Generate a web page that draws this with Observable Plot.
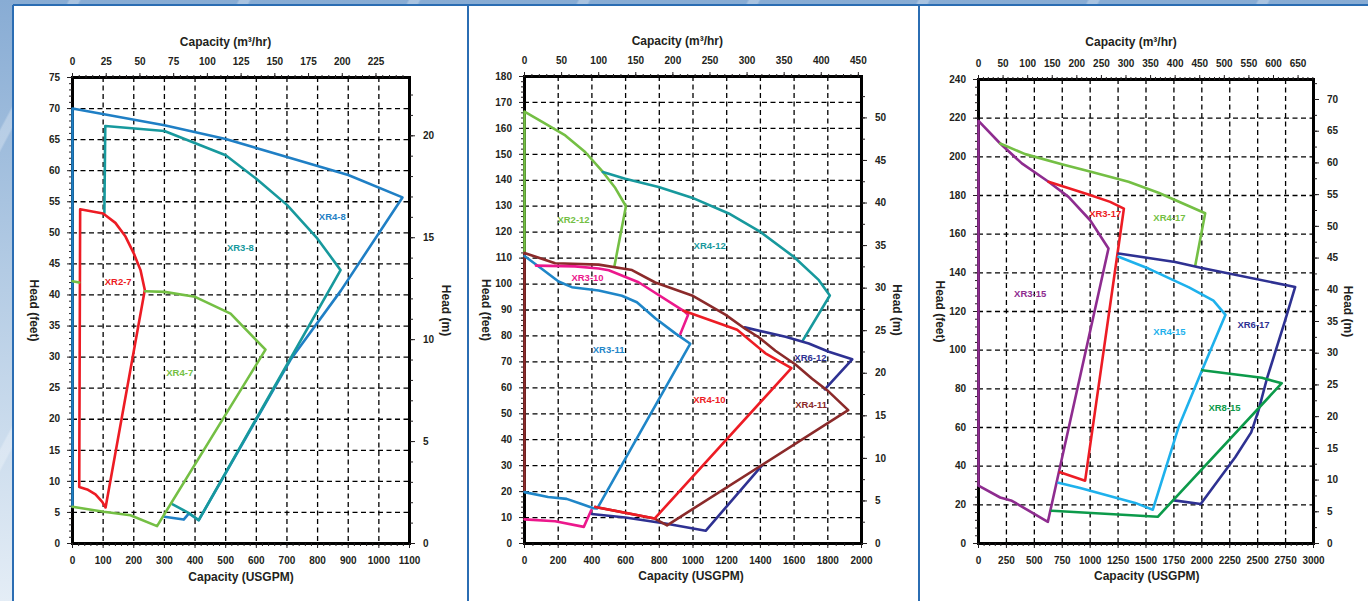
<!DOCTYPE html>
<html><head><meta charset="utf-8">
<script src="https://cdn.jsdelivr.net/npm/d3@7"></script>
<script src="https://cdn.jsdelivr.net/npm/@observablehq/plot@0.6"></script>
<style>
html,body{margin:0;padding:0;width:1368px;height:601px;overflow:hidden;}
body{position:relative;font-family:"Liberation Sans",Arial,sans-serif;
 background:
  repeating-linear-gradient(118deg, rgba(255,255,255,0) 0px, rgba(255,255,255,0) 60px, rgba(255,255,255,0.28) 62px, rgba(255,255,255,0.28) 70px, rgba(255,255,255,0) 72px, rgba(255,255,255,0) 150px),
  linear-gradient(180deg,#88acd4 0%,#b3cbe4 45%,#e4edf6 100%);}
#sheet{position:absolute;left:13px;top:5px;width:1355px;height:596px;background:#fff;}
.vline{position:absolute;top:5px;height:596px;width:2px;background:#2b6db3;}
.hline{position:absolute;left:13px;top:4px;height:2px;width:1355px;background:#2b6db3;}
.panel{position:absolute;top:5px;}
.panel svg{display:block;}
</style></head><body>
<div id="sheet"></div>
<div class="hline"></div>
<div class="vline" style="left:12px"></div>
<div class="vline" style="left:467px"></div>
<div class="vline" style="left:918px"></div>
<div class="panel" id="p1" style="left:13px"></div>
<div class="panel" id="p2" style="left:468px"></div>
<div class="panel" id="p3" style="left:919px"></div>
<script>
// ---------- DATA (x = capacity USGPM, y = head feet) ----------
// Panel 1
const xr4_8 = [[[0,5.9],[0,70],[300,67.3],[500,65.1],[700,62.2],[900,59.3],[1077,55.7],[876,40.7],[712,29.6],[412,3.75],[380,4.85],[363,3.85],[300,4.3]]];
const xr3_8 = [[[327,6.3],[380,4.9],[412,3.75],[875,44.0],[799,49.1],[700,54.5],[600,58.7],[500,62.5],[300,66.4],[107,67.2],[104,53.2]]];
const xr2_7 = [[[22,9.1],[25,53.8],[100,53.1],[140,51.6],[173,49.4],[200,46.7],[222,44.0],[236,40.8],[108,5.8],[97,6.7],[75,7.9],[48,8.7],[22,9.1]]];
const xr4_7 = [[[0,42.2],[22,42.0]],
               [[237,40.6],[300,40.5],[400,39.7],[516,37.0],[630,31.2],[276,2.8],[189,4.55],[102,5.1],[0,5.9]]];
// Panel 2
const xr2_12 = [[[533,106.7],[602,130],[539,137],[465,143.2],[360,150.9],[242,157.3],[123,161.8],[0,166.5],[0,112]]];
const xr4_12 = [[[465,143.2],[598,140.6],[796,137.4],[994,133.3],[1212,127.2],[1400,120.1],[1598,110.5],[1747,101.5],[1812,95.6],[1653,78.4]]];
const xr6_12 = [[[1307,83.3],[1549,79.7],[1687,77.1],[1806,73.9],[1945,71.0],[1782,59.4]],
                [[1410,30.1],[1075,4.9],[836,7.7],[599,10.0],[398,11.4]]];
const xr4_11 = [[[0,20],[0,112],[182,108],[440,107.5],[638,105.4],[776,100.6],[994,95.6],[1192,88.2],[1311,82.7],[1390,79.5],[1489,74.3],[1608,69],[1707,63.5],[1796,59.1],[1921,51.4],[846,7.0],[772,9.6],[420,14.1]]];
const xr3_11 = [[[0,110.8],[100,106],[202,101],[281,98.8],[440,97.5],[578,95.5],[667,93.0],[776,86.8],[895,81.0],[984,77.0],[432,13.5],[410,13.6],[330,15.4],[250,17.2],[140,17.9],[0,19.8]]];
const xr3_10 = [[[68,107.1],[300,106.8],[440,106.0],[500,105.3],[677,100.7],[944,89.7],[971,88.2],[925,80.8]],
                [[0,9.3],[182,8.6],[352,6.4],[396,12.8]]];
const xr4_10 = [[[944,89.7],[1262,82.4],[1430,73.3],[1584,67.6],[772,9.6],[420,14.1]]];
// Panel 3
const xr3_15 = [[[0,29.9],[0,218.6],[194,206.9],[388,196.6],[627,187.1],[806,179.3],[1000,167.2],[1164,152.6],[621,11.2],[403,18.6],[299,22.1],[194,23.8],[0,29.9]]];
const xr3_17 = [[[627,187.1],[985,180.5],[1179,176.7],[1302,173.2],[955,32.5],[730,36.8]]];
const xr4_17 = [[[194,206.9],[418,201.4],[746,196.2],[1015,192.2],[1343,187.1],[1612,181.4],[2030,170.8],[1941,143.8]]];
const xr6_17 = [[[1254,150],[1761,145.6],[2000,142.5],[2836,132.7],[2746,115.4],[2582,85.1],[2507,68.7],[2442,57.5],[2299,44.6],[1990,20.4],[1750,22.3]]];
const xr4_15 = [[[1254,148.3],[1522,142.2],[1885,132.5],[2104,125.6],[2212,118.3],[2000,89.4],[1791,60.1],[1561,17.5],[1403,21],[911,28.7],[716,31.4]]];
const xr8_15 = [[[2003,89.6],[2269,87.7],[2537,85.7],[2716,82.9],[1605,13.8],[657,16.9]]];

// Curve labels: name, capacity (USGPM), head (ft)
const labels1 = [["XR4-8",848,52.6],["XR3-8",548,47.5],["XR2-7",149,42.1],["XR4-7",350,27.4]];
const labels2 = [["XR2-12",291,124.9],["XR4-12",1099,114.5],["XR3-10",374,102.5],["XR3-11",499,74.7],["XR6-12",1697,71.6],["XR4-10",1097,55.5],["XR4-11",1701,53.3]];
const labels3 = [["XR3-17",1135,170.2],["XR4-17",1710,168.5],["XR3-15",463,129.1],["XR4-15",1710,109.6],["XR6-17",2463,113.3],["XR8-15",2203,69.9]];

// Axis ticks
const gpmTicks1 = d3.range(0, 1101, 100), ftTicks1 = d3.range(0, 76, 5), m3hTicks1 = d3.range(0, 226, 25), mTicks1 = d3.range(0, 21, 5);
const gpmTicks2 = d3.range(0, 2001, 200), ftTicks2 = d3.range(0, 181, 10), m3hTicks2 = d3.range(0, 451, 50), mTicks2 = d3.range(0, 51, 5);
const gpmTicks3 = d3.range(0, 3001, 250), ftTicks3 = d3.range(0, 241, 20), m3hTicks3 = d3.range(0, 651, 50), mTicks3 = d3.range(0, 71, 5);

// ---------- STYLE ----------
const COLORS = {
  "XR4-8":"#1f7fc5","XR3-8":"#17999d","XR2-7":"#ed1c24","XR4-7":"#74bf44",
  "XR2-12":"#74bf44","XR4-12":"#17999d","XR6-12":"#2e3192","XR4-11":"#8b2a2a","XR3-11":"#1f86c8","XR3-10":"#ec188c","XR4-10":"#ed1c24",
  "XR3-15":"#8e2c8f","XR3-17":"#ed1c24","XR4-17":"#74bf44","XR6-17":"#2e3192","XR4-15":"#1eb1ec","XR8-15":"#0c9a4a"
};
const GPM_PER_M3H = 4.402868, FT_PER_M = 3.28084;
const TXT = "#231f20";

function rows(segs, key){ return segs.flatMap((s,i)=>s.map(([x,y])=>({x,y,seg:key+"-"+i}))); }

function panel(cfg){
  const grid = {stroke:"#000", strokeOpacity:1, strokeWidth:1.3, strokeDasharray:"5,3.5"};
  const blank = () => "";
  const marks = [
    Plot.gridX(cfg.xT, grid),
    Plot.gridY(cfg.yT, grid),
    Plot.frame({stroke:"#000", strokeWidth:3}),
    Plot.axisX(cfg.xMinor, {anchor:"bottom", tickSize:3, tickFormat:blank, label:null}),
    Plot.axisX(cfg.topMinor.map(v=>v*GPM_PER_M3H), {anchor:"top", tickSize:3, tickFormat:blank, label:null}),
    Plot.axisY(cfg.yMinor, {anchor:"left", tickSize:3, tickFormat:blank, label:null}),
    Plot.axisY(cfg.rightMinor.map(v=>v*FT_PER_M), {anchor:"right", tickSize:3, tickFormat:blank, label:null}),
    Plot.axisX(cfg.xT, {anchor:"bottom", tickSize:5, tickPadding:8, tickFormat:d=>String(d), label:null}),
    Plot.axisX(cfg.topT.map(v=>v*GPM_PER_M3H), {anchor:"top", tickSize:5, tickPadding:7.5, tickFormat:d=>String(Math.round(d/GPM_PER_M3H)), label:null}),
    Plot.axisY(cfg.yT, {anchor:"left", tickSize:5, tickPadding:7.5, tickFormat:d=>String(d), label:null}),
    Plot.axisY(cfg.rightT.map(v=>v*FT_PER_M), {anchor:"right", tickSize:5, tickPadding:8.5, tickFormat:d=>String(Math.round(d/FT_PER_M)), label:null})
  ];
  for (const [name, segs] of cfg.series) {
    marks.push(Plot.line(rows(segs, name), {x:"x", y:"y", z:"seg", stroke:COLORS[name], strokeWidth:2.6, strokeLinejoin:"round", strokeLinecap:"round"}));
  }
  marks.push(Plot.text(cfg.labels, {x:d=>d[1], y:d=>d[2], text:d=>d[0], fill:d=>COLORS[d[0]], fontSize:9.5, fontWeight:"bold"}));
  const L = cfg.lab;
  const lt = {text:d=>d, fontSize:12, fontWeight:"bold", fill:TXT, textAnchor:"middle", lineAnchor:"middle"};
  marks.push(Plot.text(["Capacity (m³/hr)"], {...lt, frameAnchor:"top", dx:L.tdx, dy:L.tdy}));
  marks.push(Plot.text(["Capacity (USGPM)"], {...lt, frameAnchor:"bottom", dx:L.bdx, dy:L.bdy}));
  marks.push(Plot.text(["Head (feet)"], {...lt, frameAnchor:"left", dx:L.ldx, rotate:90}));
  marks.push(Plot.text(["Head (m)"], {...lt, frameAnchor:"right", dx:L.rdx, rotate:90}));
  return Plot.plot({
    width:cfg.w, height:596, marginLeft:cfg.ml, marginRight:cfg.mr, marginTop:cfg.mt, marginBottom:cfg.mb,
    x:{domain:[0,cfg.xmax]}, y:{domain:[0,cfg.ymax]},
    style:{fontFamily:'"Liberation Sans",Arial,sans-serif', fontSize:"10px", fontWeight:"bold", color:TXT, background:"transparent", overflow:"visible"},
    marks
  });
}

document.getElementById("p1").append(panel({
  w:455, ml:59, mr:59, mt:72, mb:58, xmax:1100, ymax:75,
  xT:gpmTicks1, yT:ftTicks1, topT:m3hTicks1, rightT:mTicks1,
  xMinor:d3.range(0,1101,20), yMinor:d3.range(0,76,1), topMinor:d3.range(0,246,5), rightMinor:d3.range(0,23,1),
  series:[["XR4-8",xr4_8],["XR3-8",xr3_8],["XR2-7",xr2_7],["XR4-7",xr4_7]],
  labels:labels1,
  lab:{tdx:-15.5, tdy:-35, bdx:0, bdy:33.5, ldx:-39, rdx:36}
}));
document.getElementById("p2").append(panel({
  w:451, ml:56, mr:58, mt:71, mb:58, xmax:2000, ymax:180,
  xT:gpmTicks2, yT:ftTicks2, topT:m3hTicks2, rightT:mTicks2,
  xMinor:d3.range(0,2001,50), yMinor:d3.range(0,181,2), topMinor:d3.range(0,451,10), rightMinor:d3.range(0,55,2.5),
  series:[["XR2-12",xr2_12],["XR4-12",xr4_12],["XR6-12",xr6_12],["XR4-11",xr4_11],["XR3-11",xr3_11],["XR3-10",xr3_10],["XR4-10",xr4_10]],
  labels:labels2,
  lab:{tdx:-15.7, tdy:-35.3, bdx:-2, bdy:32.7, ldx:-38.3, rdx:35.7}
}));
document.getElementById("p3").append(panel({
  w:449, ml:59, mr:55, mt:74, mb:58, xmax:3000, ymax:240,
  xT:gpmTicks3, yT:ftTicks3, topT:m3hTicks3, rightT:mTicks3,
  xMinor:d3.range(0,3001,50), yMinor:d3.range(0,241,4), topMinor:d3.range(0,681,10), rightMinor:d3.range(0,73.1,2.5),
  series:[["XR3-15",xr3_15],["XR3-17",xr3_17],["XR4-17",xr4_17],["XR6-17",xr6_17],["XR4-15",xr4_15],["XR8-15",xr8_15]],
  labels:labels3,
  lab:{tdx:-15, tdy:-37.6, bdx:0.7, bdy:32.3, ldx:-38.3, rdx:34.7}
}));
</script>
</body></html>
